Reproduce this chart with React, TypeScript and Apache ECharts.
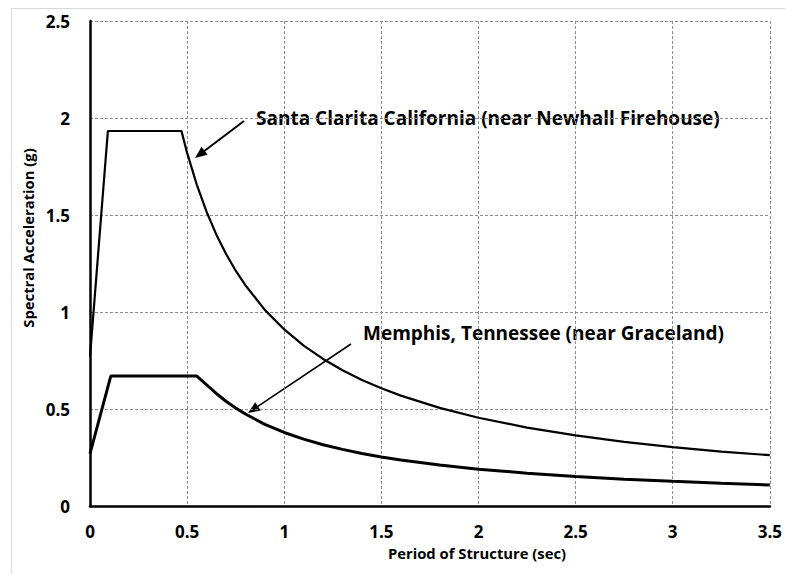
import React, { useEffect, useRef } from "react";
import * as echarts from "echarts";

// Periods (sec) and spectral accelerations (g)
const santaT = [0, 0.092, 0.471, 0.5, 0.55, 0.6, 0.65, 0.7, 0.75, 0.8, 0.9, 1.0, 1.1, 1.2, 1.3, 1.4, 1.5, 1.6, 1.8, 2.0, 2.25, 2.5, 2.75, 3.0, 3.25, 3.5];
const santaSa = [0.77, 1.933, 1.933, 1.82, 1.655, 1.517, 1.4, 1.3, 1.213, 1.138, 1.011, 0.91, 0.827, 0.758, 0.7, 0.65, 0.607, 0.569, 0.506, 0.455, 0.404, 0.364, 0.331, 0.303, 0.28, 0.262];

const memphisT = [0, 0.107, 0.55, 0.6, 0.65, 0.7, 0.75, 0.8, 0.9, 1.0, 1.1, 1.2, 1.3, 1.4, 1.5, 1.6, 1.8, 2.0, 2.25, 2.5, 2.75, 3.0, 3.25, 3.5];
const memphisSa = [0.27, 0.67, 0.67, 0.625, 0.58, 0.54, 0.505, 0.474, 0.421, 0.379, 0.345, 0.316, 0.292, 0.271, 0.253, 0.237, 0.211, 0.19, 0.169, 0.152, 0.138, 0.127, 0.117, 0.108];

const xTicks = { min: 0, max: 3.5, interval: 0.5 };
const yTicks = { min: 0, max: 2.5, interval: 0.5 };

const santaLabel = "Santa Clarita California (near Newhall Firehouse)";
const memphisLabel = "Memphis, Tennessee (near Graceland)";
const xTitle = "Period of Structure (sec)";
const yTitle = "Spectral Acceleration (g)";

const FONT = "'Open Sans', 'Noto Sans', sans-serif";

function arrow(x1: number, y1: number, x2: number, y2: number, width: number, len: number, half: number) {
  const dx = x2 - x1;
  const dy = y2 - y1;
  const d = Math.sqrt(dx * dx + dy * dy);
  const ux = dx / d;
  const uy = dy / d;
  const bx = x2 - ux * len;
  const by = y2 - uy * len;
  return [
    {
      type: "line",
      shape: { x1, y1, x2: bx + ux * 2, y2: by + uy * 2 },
      style: { stroke: "#000", lineWidth: width },
      silent: true,
    },
    {
      type: "polygon",
      shape: {
        points: [
          [x2, y2],
          [bx - uy * half, by + ux * half],
          [bx + uy * half, by - ux * half],
        ],
      },
      style: { fill: "#000" },
      silent: true,
    },
  ];
}

export default function App() {
  const ref = useRef<HTMLDivElement>(null);
  useEffect(() => {
    if (!ref.current) return;
    const chart = echarts.init(ref.current, undefined, { renderer: "svg" });
    const gridLine = { show: true, lineStyle: { color: "#8c8c8c", width: 1, type: [3, 2] as any } };
    const tickLabel = { color: "#000", fontSize: 17, fontWeight: "bold", margin: 19, fontFamily: FONT };
    chart.setOption({
      animation: false,
      backgroundColor: "#fff",
      textStyle: { fontFamily: FONT },
      grid: { left: 90, top: 21, right: 11, bottom: 68, containLabel: false },
      xAxis: {
        type: "value",
        min: xTicks.min,
        max: xTicks.max,
        interval: xTicks.interval,
        axisLine: { show: true, onZero: false, lineStyle: { color: "#000", width: 2.5 } },
        axisTick: { show: false },
        splitLine: gridLine,
        axisLabel: { ...tickLabel, margin: 17 },
      },
      yAxis: {
        type: "value",
        min: yTicks.min,
        max: yTicks.max,
        interval: yTicks.interval,
        axisLine: { show: true, onZero: false, lineStyle: { color: "#000", width: 2.5 } },
        axisTick: { show: false },
        splitLine: gridLine,
        axisLabel: { ...tickLabel, margin: 20 },
      },
      series: [
        {
          name: "Santa Clarita",
          type: "line",
          data: santaT.map((t, i) => [t, santaSa[i]]),
          showSymbol: false,
          lineStyle: { color: "#000", width: 2.2 },
          z: 3,
        },
        {
          name: "Memphis",
          type: "line",
          data: memphisT.map((t, i) => [t, memphisSa[i]]),
          showSymbol: false,
          lineStyle: { color: "#000", width: 3 },
          z: 3,
        },
      ],
      graphic: [
        {
          type: "rect",
          shape: { x: 11.5, y: 8.5, width: 800, height: 600 },
          style: { fill: "none", stroke: "#d9d9d9", lineWidth: 1 },
          silent: true,
          z: -1,
        },
        {
          type: "text",
          x: 256,
          y: 118,
          style: { text: santaLabel, font: `bold 19px ${FONT}`, fill: "#000", textAlign: "left", textVerticalAlign: "middle" },
        },
        {
          type: "text",
          x: 363,
          y: 333,
          style: { text: memphisLabel, font: `bold 19px ${FONT}`, fill: "#000", textAlign: "left", textVerticalAlign: "middle" },
        },
        ...arrow(244, 121, 195, 158, 2, 12, 5),
        ...arrow(351, 344, 248, 413, 1.6, 12, 5),
        {
          type: "text",
          x: 477,
          y: 553,
          style: { text: xTitle, font: `bold 14.8px ${FONT}`, fill: "#000", textAlign: "center", textVerticalAlign: "middle" },
        },
        {
          type: "text",
          x: 28,
          y: 238,
          rotation: Math.PI / 2,
          style: { text: yTitle, font: `bold 14.8px ${FONT}`, fill: "#000", textAlign: "center", textVerticalAlign: "middle" },
        },
      ],
    });
    return () => chart.dispose();
  }, []);
  return (
    <div
      ref={ref}
      style={{ position: "fixed", left: 0, top: 0, width: 785, height: 574, background: "#fff" }}
    />
  );
}
